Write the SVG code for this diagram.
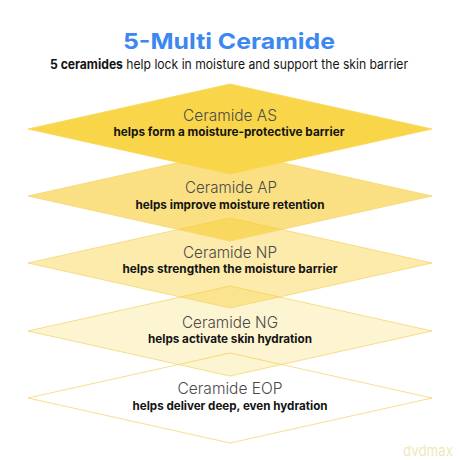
<svg xmlns="http://www.w3.org/2000/svg" width="460" height="460" viewBox="0 0 460 460">
<style>
.dia{fill:#F7CC2E;stroke:#F5D670;stroke-width:0.8}
.name{font-family:Inter,"Noto Sans",sans-serif;font-weight:300;font-size:16px;fill:#4a4a4a;text-anchor:middle}
.desc{font-family:Inter,"Noto Sans",sans-serif;font-weight:700;font-size:12px;fill:#141414;text-anchor:middle}
</style>
<rect width="460" height="460" fill="#ffffff"/>
<g id="title">
<text x="229" y="49" text-anchor="middle" font-family="Inter,'Noto Sans',sans-serif" font-weight="700" font-size="22" fill="#3D87F0" textLength="212" lengthAdjust="spacingAndGlyphs">5-Multi Ceramide</text>
<text x="229" y="69" text-anchor="middle" font-family="Inter,'Noto Sans',sans-serif" font-size="13" fill="#141414" textLength="358" lengthAdjust="spacingAndGlyphs"><tspan font-weight="700">5 ceramides</tspan> help lock in moisture and support the skin barrier</text>
</g>
<g id="connectors"></g>
<g id="node-eop">
<polygon class="dia" points="230,353 432,398 230,443 28,398" fill-opacity="0"/>
<text class="name" x="230" y="394" textLength="105" lengthAdjust="spacingAndGlyphs">Ceramide EOP</text>
<text class="desc" x="230" y="410" textLength="195" lengthAdjust="spacingAndGlyphs">helps deliver deep, even hydration</text>
</g>
<g id="node-ng">
<polygon class="dia" points="230,286 432,331 230,376 28,331" fill-opacity="0.22"/>
<text class="name" x="230" y="328" textLength="96" lengthAdjust="spacingAndGlyphs">Ceramide NG</text>
<text class="desc" x="230" y="343" textLength="164" lengthAdjust="spacingAndGlyphs">helps activate skin hydration</text>
</g>
<g id="node-np">
<polygon class="dia" points="230,218 432,263 230,308 28,263" fill-opacity="0.4"/>
<text class="name" x="230" y="258" textLength="94" lengthAdjust="spacingAndGlyphs">Ceramide NP</text>
<text class="desc" x="230" y="273" textLength="215" lengthAdjust="spacingAndGlyphs">helps strengthen the moisture barrier</text>
</g>
<g id="node-ap">
<polygon class="dia" points="230,151 432,196 230,241 28,196" fill-opacity="0.6"/>
<text class="name" x="231" y="193" textLength="92" lengthAdjust="spacingAndGlyphs">Ceramide AP</text>
<text class="desc" x="230" y="208.5" textLength="189" lengthAdjust="spacingAndGlyphs">helps improve moisture retention</text>
</g>
<g id="node-as">
<polygon points="230,84 432,129 230,174 28,129" fill="#F9D649" stroke="#F7D657" stroke-width="0.8"/>
<text class="name" x="230" y="121" textLength="94" lengthAdjust="spacingAndGlyphs">Ceramide AS</text>
<text class="desc" x="229" y="136" textLength="231" lengthAdjust="spacingAndGlyphs">helps form a moisture-protective barrier</text>
</g>
<text x="428" y="456" text-anchor="middle" font-family="Inter,'Noto Sans',sans-serif" font-size="15" fill="#F2E7BC" textLength="50" lengthAdjust="spacingAndGlyphs">dvdmax</text>
</svg>
